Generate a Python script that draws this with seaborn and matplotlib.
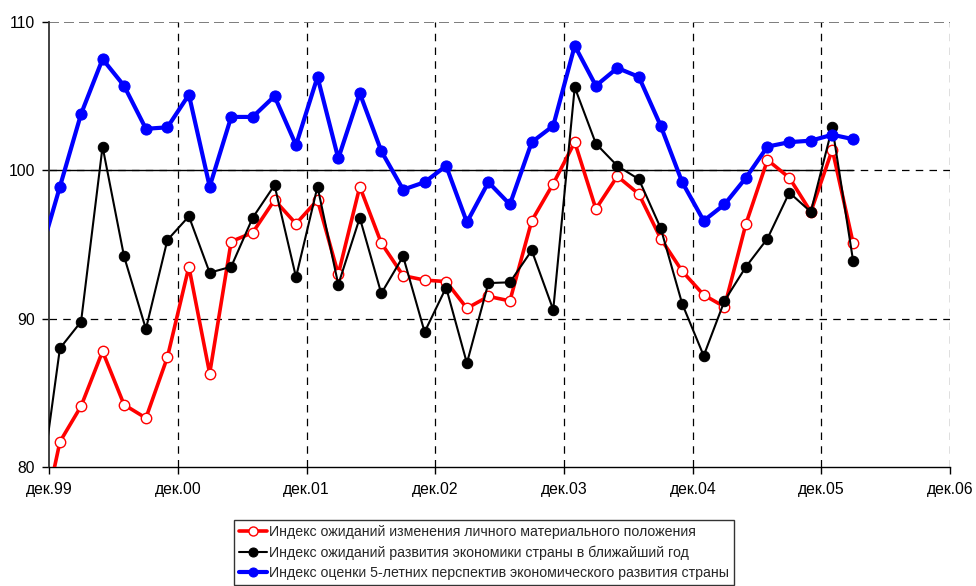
import matplotlib
matplotlib.use("Agg")
import matplotlib.pyplot as plt
import matplotlib.dates as mdates
import numpy as np
import pandas as pd
import seaborn as sns

# ---- data (bimonthly, Nov 1999 .. Mar 2006) ----
dates = pd.date_range("1999-11-01", periods=39, freq="2MS")

personal = [74.9, 81.7, 84.1, 87.8, 84.2, 83.3, 87.4,
            93.5, 86.3, 95.2, 95.8, 98.0, 96.4,
            98.0, 93.0, 98.9, 95.1, 92.9, 92.6,
            92.5, 90.7, 91.5, 91.2, 96.6, 99.1,
            101.9, 97.4, 99.6, 98.4, 95.4, 93.2,
            91.6, 90.8, 96.4, 100.7, 99.5, 97.2,
            101.4, 95.1]

economy_year = [77.4, 88.0, 89.8, 101.6, 94.2, 89.3, 95.3,
                96.9, 93.1, 93.5, 96.8, 99.0, 92.8,
                98.9, 92.3, 96.8, 91.7, 94.2, 89.1,
                92.1, 87.0, 92.4, 92.45, 94.6, 90.6,
                105.6, 101.8, 100.3, 99.4, 96.1, 91.0,
                87.5, 91.2, 93.5, 95.4, 98.5, 97.2,
                102.9, 93.9]

economy_5y = [93.9, 98.9, 103.8, 107.5, 105.7, 102.8, 102.9,
              105.1, 98.9, 103.6, 103.6, 105.0, 101.7,
              106.3, 100.8, 105.2, 101.3, 98.7, 99.2,
              100.3, 96.5, 99.2, 97.7, 101.9, 103.0,
              108.4, 105.7, 106.9, 106.3, 103.0, 99.2,
              96.6, 97.7, 99.5, 101.6, 101.9, 102.0,
              102.4, 102.1]

labels = ["Индекс ожиданий изменения личного материального положения",
          "Индекс ожиданий развития экономики страны в ближайший год",
          "Индекс оценки 5-летних перспектив экономического развития страны"]

year_ticks = pd.to_datetime(["1999-12-01", "2000-12-01", "2001-12-01", "2002-12-01",
                             "2003-12-01", "2004-12-01", "2005-12-01", "2006-12-01"])
year_labels = ["дек.99", "дек.00", "дек.01", "дек.02", "дек.03", "дек.04", "дек.05", "дек.06"]
y_ticks = [80, 90, 100, 110]

df = pd.DataFrame({"date": dates, "personal": personal,
                   "economy_year": economy_year, "economy_5y": economy_5y})

sns.set_theme(style="white")
plt.rcParams["font.family"] = ["Liberation Sans", "DejaVu Sans"]

fig = plt.figure(figsize=(9.76, 5.86), dpi=100)
ax = fig.add_axes([49 / 976, 1 - 467 / 586, (950 - 49) / 976, (467 - 22) / 586])

# grid lines
for t in year_ticks[1:]:
    ax.axvline(t, color="black", lw=0.9, ls=(0, (6, 5)), zorder=1)
for yv in [90, 100]:
    ax.axhline(yv, color="black", lw=0.9, ls=(0, (6, 5)), zorder=1)
ax.axhline(110, color="#666666", lw=1.2, ls=(0, (6, 3)), zorder=1)
ax.hlines(100, dates[0], dates[-1], color="black", lw=1.0, zorder=1.5)

sns.lineplot(data=df, x="date", y="personal", ax=ax, color="#ff0000", lw=2.6,
             marker="o", markersize=7.5, markerfacecolor="white",
             markeredgecolor="#ff0000", markeredgewidth=1.0, label=labels[0], zorder=3)
sns.lineplot(data=df, x="date", y="economy_year", ax=ax, color="black", lw=1.5,
             marker="o", markersize=7.5, markerfacecolor="black",
             markeredgecolor="black", label=labels[1], zorder=4)
sns.lineplot(data=df, x="date", y="economy_5y", ax=ax, color="#0000ff", lw=3.0,
             marker="o", markersize=8.0, markerfacecolor="#0000ff",
             markeredgecolor="#0000ff", label=labels[2], zorder=5)

ax.set_xlim(year_ticks[0], year_ticks[-1])
ax.set_ylim(80, 110)
ax.set_xticks(year_ticks)
ax.set_xticklabels(year_labels)
ax.set_yticks(y_ticks)
ax.set_yticklabels([str(v) for v in y_ticks])
ax.set_xlabel("")
ax.set_ylabel("")
ax.tick_params(axis="both", labelsize=11.3, colors="black", direction="out",
               length=5, width=1, bottom=True, left=True)
ax.tick_params(axis="x", pad=6)
ax.tick_params(axis="y", pad=5)

for s in ["top", "right"]:
    ax.spines[s].set_visible(False)
ax.spines["left"].set_color("#333333")
ax.spines["left"].set_linewidth(1.3)
ax.spines["bottom"].set_color("black")
ax.spines["bottom"].set_linewidth(1.0)
ax.grid(False)

ax.get_legend().remove()
handles, lbls = ax.get_legend_handles_labels()
leg = fig.legend(handles, lbls, loc="upper left",
                 bbox_to_anchor=(234 / 976, 1 - 520 / 586),
                 frameon=True, fancybox=False, edgecolor="black",
                 fontsize=10.2, handlelength=2.0, handletextpad=0.1,
                 borderpad=0.35, labelspacing=0.45, borderaxespad=0)
leg.get_frame().set_linewidth(1.0)
for h in leg.legend_handles:
    h.set_markersize(6.5)

fig.savefig("out.png", dpi=100)
